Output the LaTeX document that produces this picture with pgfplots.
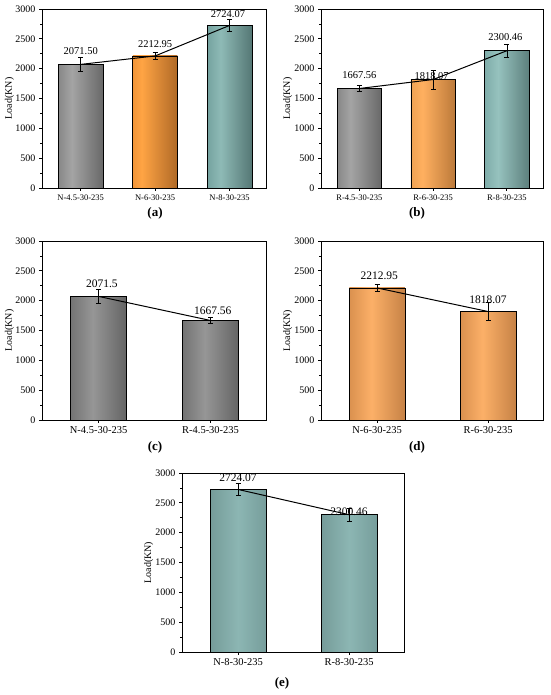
\documentclass[border=0pt]{standalone}
\usepackage{pgfplots}
\pgfplotsset{compat=1.18}
\usepackage{fontspec}
\setmainfont{Liberation Serif}

\definecolor{gA}{HTML}{585858}\definecolor{gB}{HTML}{A4A4A4}\definecolor{gC}{HTML}{3E3E3E}
\definecolor{oA}{HTML}{D0701A}\definecolor{oB}{HTML}{FFA444}\definecolor{oC}{HTML}{7E4414}
\definecolor{tA}{HTML}{4C7C7A}\definecolor{tB}{HTML}{8EBAB6}\definecolor{tC}{HTML}{2C4846}
\definecolor{pA}{HTML}{D08838}\definecolor{pB}{HTML}{FFB060}\definecolor{pC}{HTML}{8E5420}
\definecolor{qA}{HTML}{5A8A88}\definecolor{qB}{HTML}{96C2BE}\definecolor{qC}{HTML}{34504E}
\definecolor{cA}{HTML}{4A4A4A}\definecolor{cB}{HTML}{969696}\definecolor{cC}{HTML}{3A3A3A}
\definecolor{dA}{HTML}{B06A30}\definecolor{dB}{HTML}{FCB068}\definecolor{dC}{HTML}{9A5C2A}
\definecolor{eA}{HTML}{3E5856}\definecolor{eA2}{HTML}{6A8E8C}\definecolor{eB}{HTML}{8CB6B3}\definecolor{eC2}{HTML}{6E9492}\definecolor{eC}{HTML}{3C5654}

\pgfdeclarehorizontalshading{shgA}{100bp}{color(0bp)=(gA); color(40bp)=(gB); color(100bp)=(gC)}
\pgfdeclarehorizontalshading{shoA}{100bp}{color(0bp)=(oA); color(35bp)=(oB); color(100bp)=(oC)}
\pgfdeclarehorizontalshading{shtA}{100bp}{color(0bp)=(tA); color(40bp)=(tB); color(100bp)=(tC)}
\pgfdeclarehorizontalshading{shoB}{100bp}{color(0bp)=(pA); color(38bp)=(pB); color(100bp)=(pC)}
\pgfdeclarehorizontalshading{shtB}{100bp}{color(0bp)=(qA); color(40bp)=(qB); color(100bp)=(qC)}
\pgfdeclarehorizontalshading{shgC}{100bp}{color(0bp)=(cA); color(45bp)=(cB); color(100bp)=(cC)}
\pgfdeclarehorizontalshading{shoD}{100bp}{color(0bp)=(dA); color(45bp)=(dB); color(100bp)=(dC)}
\pgfdeclarehorizontalshading{shtE}{100bp}{color(0bp)=(eA); color(12bp)=(eA2); color(50bp)=(eB); color(85bp)=(eC2); color(100bp)=(eC)}

\pgfplotsset{
  panel/.style={
    scale only axis, height=179pt,
    ymin=0, ymax=3000, ytick={0,500,...,3000}, minor y tick num=1,
    tick align=outside, tick pos=left,
    major tick length=3pt, minor tick length=1.8pt,
    axis line style={line width=0.9pt},
    every tick/.style={black, line width=0.8pt},
    /pgf/number format/assume math mode=true,
    /pgf/number format/set thousands separator={},
    yticklabel style={font=\fontsize{10}{12}\selectfont},
    ylabel={Load(KN)},
    ylabel style={font=\fontsize{10}{12}\selectfont},
    every axis y label/.style={at={(axis description cs:-0.145,0.5)}, rotate=90, anchor=center},
    xtick style={draw=black},
  },
  three/.style={panel, xmin=-0.52, xmax=2.49, xtick={0,1,2},
    xticklabel style={font=\fontsize{8.5}{10}\selectfont}},
  two/.style={panel, xmin=-0.505, xmax=1.495, xtick={0,1},
    xticklabel style={font=\fontsize{10.5}{12}\selectfont}},
  bar/.style={ybar, bar shift=0pt, draw=black, line width=0.6pt, shade, shading=#1},
  conn/.style={black, line width=1pt, mark=none,
    error bars/.cd, y dir=both, y explicit,
    error bar style={line width=0.7pt, black},
    error mark options={rotate=90, mark size=2.5pt, line width=0.7pt, black}},
}

\begin{document}
\begin{tikzpicture}[x=1pt,y=1pt]
\path (0,0) rectangle (550,695);

% (a)
\begin{axis}[three, width=224pt, at={(42pt,507pt)}, anchor=south west,
  xticklabels={N-4.5-30-235,N-6-30-235,N-8-30-235}]
\addplot[bar=shgA, bar width=0.6] coordinates {(0,2071.50)};
\addplot[bar=shoA, bar width=0.6] coordinates {(1,2212.95)};
\addplot[bar=shtA, bar width=0.6] coordinates {(2,2724.07)};
\addplot[conn] coordinates {(0,2071.50) +- (0,112) (1,2212.95) +- (0,58) (2,2724.07) +- (0,104)};
\node[font=\fontsize{10.5}{12}\selectfont] at (axis cs:0,2296) {2071.50};
\node[font=\fontsize{10.5}{12}\selectfont] at (axis cs:1,2413) {2212.95};
\node[font=\fontsize{10.5}{12}\selectfont] at (axis cs:1.98,2916) {2724.07};
\end{axis}

% (b)
\begin{axis}[three, width=222pt, at={(321pt,507pt)}, anchor=south west,
  every axis y label/.style={at={(axis description cs:-0.15,0.5)}, rotate=90, anchor=center},
  xticklabels={R-4.5-30-235,R-6-30-235,R-8-30-235}]
\addplot[bar=shgA, bar width=0.6] coordinates {(0,1667.56)};
\addplot[bar=shoB, bar width=0.6] coordinates {(1,1818.07)};
\addplot[bar=shtB, bar width=0.6] coordinates {(2,2300.46)};
\addplot[conn] coordinates {(0,1667.56) +- (0,50) (1,1818.07) +- (0,157) (2,2300.46) +- (0,110)};
\node[font=\fontsize{10.5}{12}\selectfont] at (axis cs:0,1890) {1667.56};
\node[font=\fontsize{10.5}{12}\selectfont] at (axis cs:0.98,1875) {1818.07};
\node[font=\fontsize{10.5}{12}\selectfont] at (axis cs:1.98,2526) {2300.46};
\end{axis}

% (c)
\begin{axis}[two, width=224pt, at={(42pt,275pt)}, anchor=south west,
  xticklabels={N-4.5-30-235,R-4.5-30-235}]
\addplot[bar=shgC, bar width=0.5] coordinates {(0,2071.5)};
\addplot[bar=shgC, bar width=0.5] coordinates {(1,1667.56)};
\addplot[conn] coordinates {(0,2071.5) +- (0,112) (1,1667.56) +- (0,50)};
\node[font=\fontsize{11.5}{13}\selectfont] at (axis cs:0.03,2290) {2071.5};
\node[font=\fontsize{11.5}{13}\selectfont] at (axis cs:1.02,1833) {1667.56};
\end{axis}

% (d)
\begin{axis}[two, width=222pt, at={(321pt,275pt)}, anchor=south west,
  every axis y label/.style={at={(axis description cs:-0.15,0.5)}, rotate=90, anchor=center},
  xticklabels={N-6-30-235,R-6-30-235}]
\addplot[bar=shoD, bar width=0.5] coordinates {(0,2212.95)};
\addplot[bar=shoD, bar width=0.5] coordinates {(1,1818.07)};
\addplot[conn] coordinates {(0,2212.95) +- (0,58) (1,1818.07) +- (0,155)};
\node[font=\fontsize{11.5}{13}\selectfont] at (axis cs:0.02,2411) {2212.95};
\node[font=\fontsize{11.5}{13}\selectfont] at (axis cs:1.0,2011) {1818.07};
\end{axis}

% (e)
\begin{axis}[two, width=222pt, at={(182pt,43pt)}, anchor=south west,
  every axis y label/.style={at={(axis description cs:-0.15,0.5)}, rotate=90, anchor=center},
  xticklabels={N-8-30-235,R-8-30-235}]
\addplot[bar=shtE, bar width=0.5] coordinates {(0,2724.07)};
\addplot[bar=shtE, bar width=0.5] coordinates {(1,2300.46)};
\addplot[conn] coordinates {(0,2724.07) +- (0,104) (1,2300.46) +- (0,112)};
\node[font=\fontsize{11.5}{13}\selectfont] at (axis cs:0.0,2916) {2724.07};
\node[font=\fontsize{11.5}{13}\selectfont] at (axis cs:1.0,2343) {2300.46};
\end{axis}

\node[font=\bfseries\fontsize{13}{15}\selectfont] at (155,482) {(a)};
\node[font=\bfseries\fontsize{13}{15}\selectfont] at (417,482) {(b)};
\node[font=\bfseries\fontsize{13}{15}\selectfont] at (155,248) {(c)};
\node[font=\bfseries\fontsize{13}{15}\selectfont] at (417,248) {(d)};
\node[font=\bfseries\fontsize{13}{15}\selectfont] at (282,12) {(e)};
\end{tikzpicture}
\end{document}
